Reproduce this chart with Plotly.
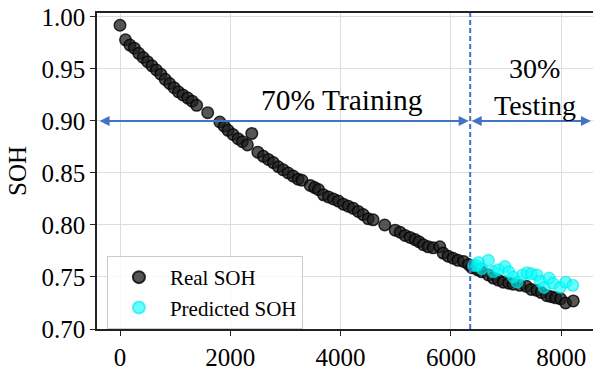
import plotly.graph_objects as go

# ---- data ----
real_cycles = [0, 100, 180, 260, 340, 420, 500, 580, 660, 740, 820, 900, 980, 1060, 1140,
               1230, 1310, 1390, 1590, 1810, 1890, 1960, 2050, 2140, 2220, 2310, 2390, 2500,
               2600, 2690, 2780, 2870, 2960, 3050, 3140, 3230, 3300, 3450, 3530, 3600, 3690,
               3780, 3870, 3960, 4050, 4140, 4230, 4320, 4410, 4500, 4590, 4800, 4990, 5080,
               5170, 5260, 5350, 5420, 5500, 5590, 5680, 5800, 5860, 5950, 6040, 6130, 6230,
               6320, 6380, 6480, 6560, 6680, 6770, 6860, 6950, 7050, 7130, 7250, 7370, 7460,
               7560, 7640, 7740, 7820, 7900, 7990, 8080, 8220]
real_soh = [0.992, 0.978, 0.973, 0.970, 0.965, 0.961, 0.957, 0.953, 0.949, 0.945, 0.940,
            0.936, 0.932, 0.928, 0.925, 0.922, 0.919, 0.915, 0.908, 0.899, 0.895, 0.891,
            0.887, 0.883, 0.880, 0.877, 0.888, 0.870, 0.866, 0.863, 0.860, 0.856, 0.853,
            0.850, 0.847, 0.844, 0.843, 0.838, 0.836, 0.834, 0.829, 0.827, 0.825, 0.823,
            0.820, 0.818, 0.816, 0.813, 0.810, 0.806, 0.805, 0.800, 0.795, 0.793, 0.790,
            0.788, 0.786, 0.784, 0.781, 0.779, 0.778, 0.779, 0.773, 0.770, 0.768, 0.766,
            0.765, 0.762, 0.759, 0.757, 0.755, 0.752, 0.749, 0.747, 0.745, 0.744, 0.743,
            0.742, 0.741, 0.738, 0.737, 0.735, 0.732, 0.731, 0.730, 0.729, 0.725, 0.727]

pred_cycles = [6410, 6470, 6500, 6560, 6680, 6770, 6860, 6980, 7050, 7130, 7200, 7300,
               7380, 7460, 7560, 7620, 7690, 7780, 7850, 7980, 8080, 8210]
pred_soh = [0.761, 0.761, 0.764, 0.758, 0.766, 0.755, 0.757, 0.760, 0.755, 0.750, 0.745,
            0.752, 0.754, 0.753, 0.752, 0.746, 0.740, 0.749, 0.744, 0.740, 0.745, 0.742]

y_ticks = [0.70, 0.75, 0.80, 0.85, 0.90, 0.95, 1.00]
x_ticks = [0, 2000, 4000, 6000, 8000]

split_cycle = 6350
arrow_soh = 0.90
x_left_end = -370
x_right_end = 8540

FONT = "Liberation Serif"
BLUE = "#4472C4"

fig = go.Figure()
fig.add_trace(go.Scatter(
    x=real_cycles, y=real_soh, mode="markers", name="Real SOH",
    marker=dict(size=11.5, color="rgba(30,30,30,0.75)",
                line=dict(color="rgba(0,0,0,0.8)", width=1.5)),
))
fig.add_trace(go.Scatter(
    x=pred_cycles, y=pred_soh, mode="markers", name="Predicted SOH",
    marker=dict(size=11.5, color="rgba(0,255,255,0.6)",
                line=dict(color="rgba(0,230,230,0.6)", width=1.5)),
))

# dashed split line
fig.add_shape(type="line", xref="x", yref="paper", x0=split_cycle, x1=split_cycle,
              y0=0, y1=1, line=dict(color=BLUE, width=2, dash="5px,3px"))

# double arrows
fig.add_annotation(x=x_left_end, y=arrow_soh, ax=split_cycle, ay=arrow_soh,
                   xref="x", yref="y", axref="x", ayref="y", text="",
                   showarrow=True, arrowhead=2, startarrowhead=2, arrowside="end+start",
                   arrowwidth=2, arrowcolor=BLUE, arrowsize=1, startarrowsize=1)
fig.add_annotation(x=x_right_end, y=arrow_soh, ax=split_cycle, ay=arrow_soh,
                   xref="x", yref="y", axref="x", ayref="y", text="",
                   showarrow=True, arrowhead=2, startarrowhead=2, arrowside="end+start",
                   arrowwidth=2, arrowcolor=BLUE, arrowsize=1, startarrowsize=1)

fig.add_annotation(x=4025, y=0.9205, xref="x", yref="y", text="70% Training",
                   showarrow=False, font=dict(family=FONT, size=29.5, color="black"))
fig.add_annotation(x=7525, y=0.9501, xref="x", yref="y", text="30%",
                   showarrow=False, font=dict(family=FONT, size=28, color="black"))
fig.add_annotation(x=7525, y=0.9151, xref="x", yref="y", text="Testing",
                   showarrow=False, font=dict(family=FONT, size=28, color="black"))

fig.update_layout(
    width=593, height=371,
    margin=dict(l=97, r=0, t=13, b=37),
    paper_bgcolor="white", plot_bgcolor="white",
    font=dict(family=FONT, size=25, color="black"),
    showlegend=True,
    legend=dict(x=0.02, y=0.0, xanchor="left", yanchor="bottom",
                bgcolor="rgba(255,255,255,0.8)", bordercolor="#cccccc", borderwidth=1,
                font=dict(family=FONT, size=21, color="black"),
                itemsizing="constant", itemwidth=52),
)
fig.update_xaxes(range=[-417, 8577], tickvals=x_ticks, ticktext=[str(v) for v in x_ticks],
                 showline=True, linecolor="#222", linewidth=1.5, mirror=True,
                 ticks="outside", ticklen=5, tickcolor="#222",
                 showgrid=True, gridcolor="#dddddd", gridwidth=1, zeroline=False,
                 tickfont=dict(family=FONT, size=25, color="black"))
fig.update_yaxes(range=[0.70, 1.0038], tickvals=y_ticks, ticktext=[f"{v:.2f}" for v in y_ticks],
                 showline=True, linecolor="#222", linewidth=1.5,
                 ticks="outside", ticklen=5, tickcolor="#222",
                 showgrid=True, gridcolor="#dddddd", gridwidth=1, zeroline=False,
                 tickfont=dict(family=FONT, size=25, color="black"),
                 title=dict(text="SOH", font=dict(family=FONT, size=25, color="black"),
                            standoff=8))

fig.write_html("out.html")
